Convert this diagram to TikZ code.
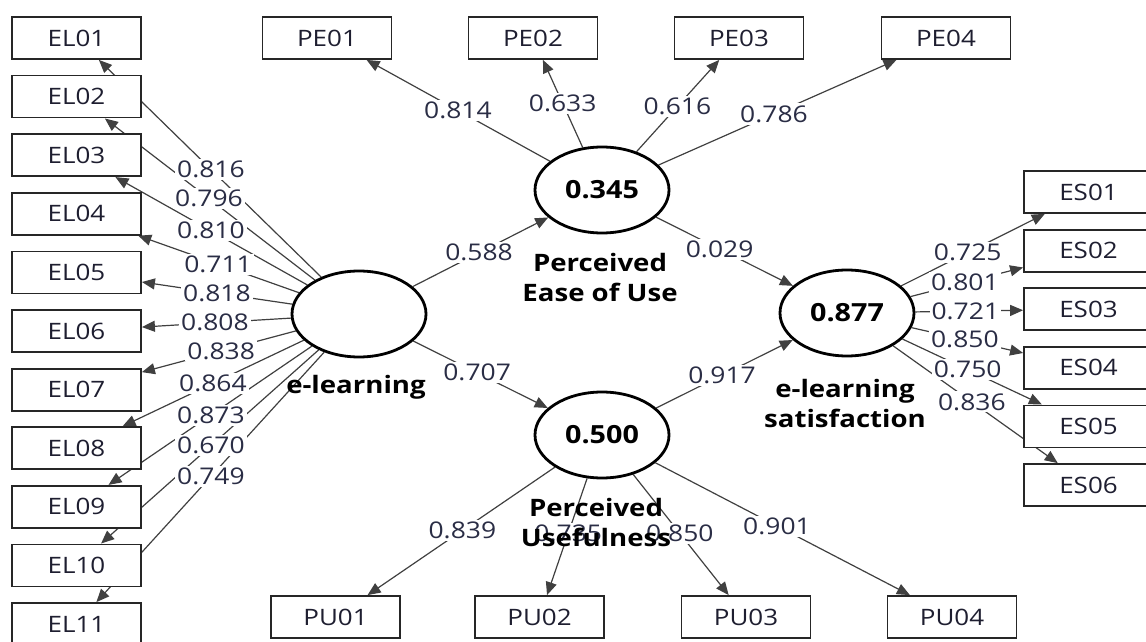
\documentclass[tikz,border=0pt]{standalone}
\usepackage{fontspec}
\setmainfont{Open Sans}[FakeStretch=1.15]
\usetikzlibrary{shapes.geometric,arrows.meta}
\pgfdeclarelayer{bg}
\pgfsetlayers{bg,main}
\definecolor{valtxt}{HTML}{2A2D45}
\definecolor{boxtxt}{HTML}{1E1E30}
\begin{document}
\begin{tikzpicture}[x=0.5pt,y=-0.5pt,
 ind/.style={draw=black!85, line width=0.9pt, fill=white, minimum width=64.5pt, minimum height=21pt, inner sep=0pt, font=\fontsize{11.3}{13}\selectfont, text=boxtxt},
 lat/.style={ellipse, draw=black, line width=1.4pt, fill=white, minimum width=67pt, minimum height=43pt, inner sep=0pt, font=\bfseries\fontsize{12.5}{14}\selectfont},
 conn/.style={draw=black!75, line width=0.6pt, -{Triangle[length=6.5pt,width=5.5pt]}},
 val/.style={fill=white, inner sep=1pt, font=\fontsize{11.5}{13}\selectfont, text=valtxt},
 ttl/.style={font=\bfseries\fontsize{12}{15}\selectfont, align=center}
]
\useasboundingbox (0,0) rectangle (1146,642);
% indicator boxes
\foreach \i/\y in {01/38,02/96.6,03/155.2,04/213.8,05/272.4,06/331,07/389.6,08/448.2,09/506.8,10/565.4,11/624}
  \node[ind] (EL\i) at (76.5,\y) {EL\i};
\foreach \i/\x in {01/327,02/533,03/739,04/946}
  \node[ind] (PE\i) at (\x,38) {PE\i};
\foreach \i/\x in {01/335.5,02/539.5,03/746,04/952}
  \node[ind] (PU\i) at (\x,617) {PU\i};
\foreach \i/\y in {01/192,02/250.6,03/309.2,04/367.8,05/426.4,06/485}
  \node[ind] (ES\i) at (1088.5,\y) {ES\i};
% latent variables
\node[lat] (EL) at (359,314) {};
\node[lat] (PE) at (602,190) {0.345};
\node[lat] (PU) at (602,435) {0.500};
\node[lat] (ES) at (847,313) {0.877};
% connectors
\begin{pgfonlayer}{bg}
\foreach \i in {01,02,03,04,05,06,07,08,09,10,11} \draw[conn] (EL) -- (EL\i);
\foreach \i in {01,02,03,04} \draw[conn] (PE) -- (PE\i);
\foreach \i in {01,02,03,04} \draw[conn] (PU) -- (PU\i);
\foreach \i in {01,02,03,04,05,06} \draw[conn] (ES) -- (ES\i);
\draw[conn] (EL) -- (PE);
\draw[conn] (EL) -- (PU);
\draw[conn] (PE) -- (ES);
\draw[conn] (PU) -- (ES);
\end{pgfonlayer}
% path coefficients / loadings
\foreach \i/\p/\v in {01/.524/0.816,02/.531/0.796,03/.524/0.810,04/.499/0.711,05/.503/0.818,06/.510/0.808,07/.488/0.838,08/.517/0.864,09/.524/0.873,10/.524/0.670,11/.524/0.749}
  \path (EL.center) -- (EL\i.center) node[val,pos=\p] {\v};
\foreach \i/\p/\v in {01/.524/0.814,02/.57/0.633,03/.55/0.616,04/.50/0.786}
  \path (PE.center) -- (PE\i.center) node[val,pos=\p] {\v};
\foreach \i/\p/\v in {01/.524/0.839,02/.54/0.735,03/.54/0.850,04/.50/0.901}
  \path (PU.center) -- (PU\i.center) node[val,pos=\p] {\v};
\foreach \i/\p/\v in {01/.5/0.725,02/.488/0.801,03/.49/0.721,04/.488/0.850,05/.5/0.750,06/.517/0.836}
  \path (ES.center) -- (ES\i.center) node[val,pos=\p] {\v};
\path (EL.center) -- (PE.center) node[val,pos=.494] {0.588};
\path (EL.center) -- (PU.center) node[val,pos=.486] {0.707};
\path (PE.center) -- (ES.center) node[val,pos=.48] {0.029};
\path (PU.center) -- (ES.center) node[val,pos=.49] {0.917};
% titles
\node[ttl] (ELt) at (356,387) {e-learning};
\node[ttl] (PEt) at (600,277) {Perceived\\Ease of Use};
\node[ttl] (ESt) at (845,403) {e-learning\\satisfaction};
\node[ttl] (PUt) at (596,522) {Perceived\\Usefulness};
\end{tikzpicture}
\end{document}
